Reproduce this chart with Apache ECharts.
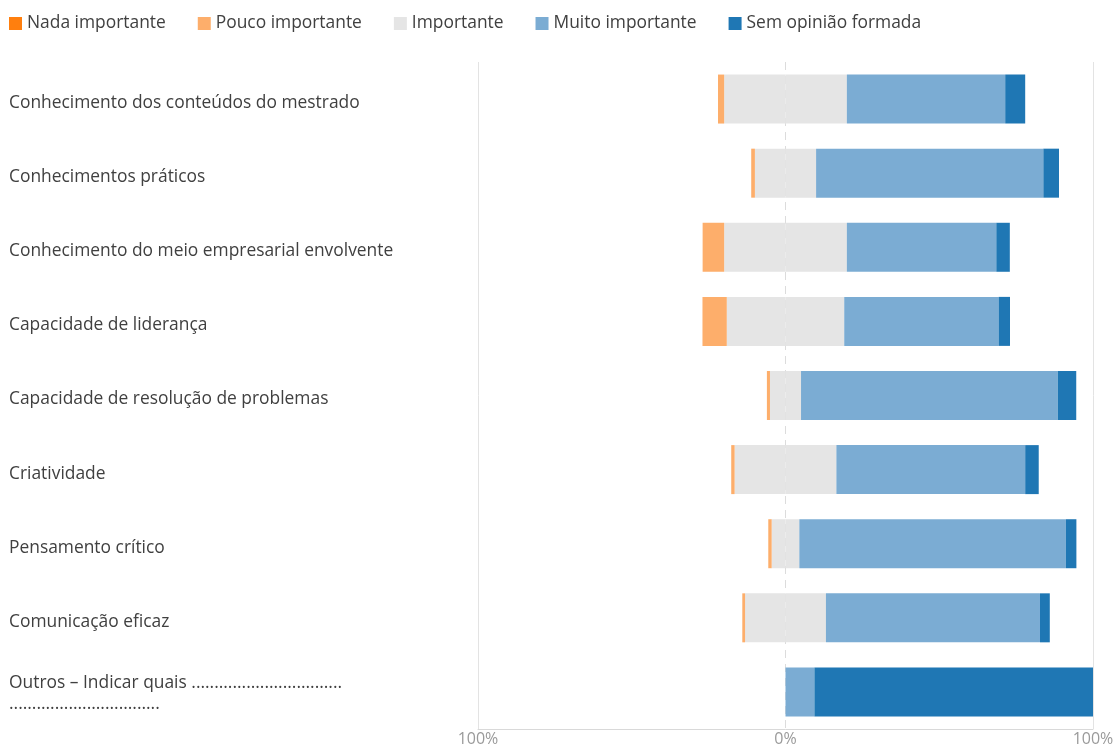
<!DOCTYPE html>
<html>
<head>
<meta charset="utf-8">
<script src="https://cdn.jsdelivr.net/npm/echarts@6/dist/echarts.min.js"></script>
<style>html,body{margin:0;padding:0;background:#fff;}#c{width:1116px;height:744px;}</style>
</head>
<body>
<div id="c"></div>
<script>
const categories = [
  'Conhecimento dos conteúdos do mestrado',
  'Conhecimentos práticos',
  'Conhecimento do meio empresarial envolvente',
  'Capacidade de liderança',
  'Capacidade de resolução de problemas',
  'Criatividade',
  'Pensamento crítico',
  'Comunicação eficaz',
  'Outros – Indicar quais .................................\n.................................'
];
const nada       = [0, 0, 0, 0, 0, 0, 0, 0, 0];
const pouco      = [2.0, 1.2, 7.0, 7.9, 1.0, 1.1, 1.1, 0.9, 0];
const importante = [39.9, 19.9, 39.9, 38.2, 10.1, 33.1, 9.0, 26.3, 0];
const muito      = [51.5, 73.9, 48.6, 50.2, 83.5, 61.4, 86.7, 69.6, 9.4];
const sem        = [6.5, 5.1, 4.4, 3.7, 6.0, 4.4, 3.4, 3.2, 90.6];
const tickValues = [-100, 0, 100];

const FONT = 'Open Sans';
const colors = {
  nada: '#ff7f0e', pouco: '#fdae6b', imp: '#e5e5e5', muito: '#7bacd3', sem: '#1f77b4'
};

const chart = echarts.init(document.getElementById('c'), null, {renderer: 'canvas'});
const barW = 49;
const neg = arr => arr.map(v => -v);
const half = arr => arr.map(v => v / 2);

chart.setOption({
  animation: false,
  textStyle: {fontFamily: FONT},
  legend: {
    left: 9, top: 15, padding: 0,
    itemWidth: 13, itemHeight: 13, itemGap: 32,
    icon: 'rect',
    textStyle: {fontSize: 17.4, color: '#404040', fontFamily: FONT},
    data: ['Nada importante', 'Pouco importante', 'Importante', 'Muito importante', 'Sem opinião formada']
  },
  grid: {left: 478, right: 23, top: 62, bottom: 15, containLabel: false, outerBoundsMode: 'none'},
  xAxis: [{
    type: 'value', min: tickValues[0], max: tickValues[2], interval: 100,
    axisLine: {show: true, lineStyle: {color: '#d9d9d9'}},
    axisTick: {show: false},
    axisLabel: {
      margin: 2, fontSize: 16, color: '#9a9a9a', fontFamily: FONT,
      formatter: v => Math.abs(v) + '%'
    },
    splitLine: {show: true, lineStyle: {color: ['#e3e3e3', 'rgba(0,0,0,0)', '#e3e3e3'], width: 1}}
  }, {
    type: 'value', min: tickValues[0], max: tickValues[2], interval: 100, position: 'top',
    axisLine: {show: false}, axisTick: {show: false}, axisLabel: {show: false},
    splitLine: {show: true, lineStyle: {color: ['rgba(0,0,0,0)', '#dcdcdc', 'rgba(0,0,0,0)'], type: [8, 6], width: 1}}
  }],
  yAxis: {
    type: 'category', inverse: true, data: categories,
    axisLine: {show: false}, axisTick: {show: false},
    axisLabel: {
      align: 'left', margin: 469, fontSize: 17.4, color: '#404040', fontFamily: FONT,
      lineHeight: 23,
      formatter: function (v) {
        const lines = v.split('\n');
        if (lines.length === 1) return '{a|' + v + '}';
        return lines.map((s, i) => (i === 0 ? '{m|' : '{b|') + s + '}').join('\n');
      },
      rich: {
        a: {fontSize: 17.4, color: '#404040', fontFamily: FONT, lineHeight: 23, padding: [8, 0, 0, 0]},
        m: {fontSize: 17.4, color: '#404040', fontFamily: FONT, lineHeight: 24, padding: [6, 0, 0, 0]},
        b: {fontSize: 17.4, color: '#404040', fontFamily: FONT, lineHeight: 24}
      }
    }
  },
  series: [
    {name: 'Importante', type: 'bar', stack: 't', barWidth: barW, data: neg(half(importante)), itemStyle: {color: colors.imp}},
    {name: 'Importante', type: 'bar', stack: 't', barWidth: barW, data: half(importante), itemStyle: {color: colors.imp}},
    {name: 'Pouco importante', type: 'bar', stack: 't', barWidth: barW, data: neg(pouco), itemStyle: {color: colors.pouco}},
    {name: 'Nada importante', type: 'bar', stack: 't', barWidth: barW, data: neg(nada), itemStyle: {color: colors.nada}},
    {name: 'Muito importante', type: 'bar', stack: 't', barWidth: barW, data: muito, itemStyle: {color: colors.muito}},
    {name: 'Sem opinião formada', type: 'bar', stack: 't', barWidth: barW, data: sem, itemStyle: {color: colors.sem}}
  ]
});
</script>
</body>
</html>
